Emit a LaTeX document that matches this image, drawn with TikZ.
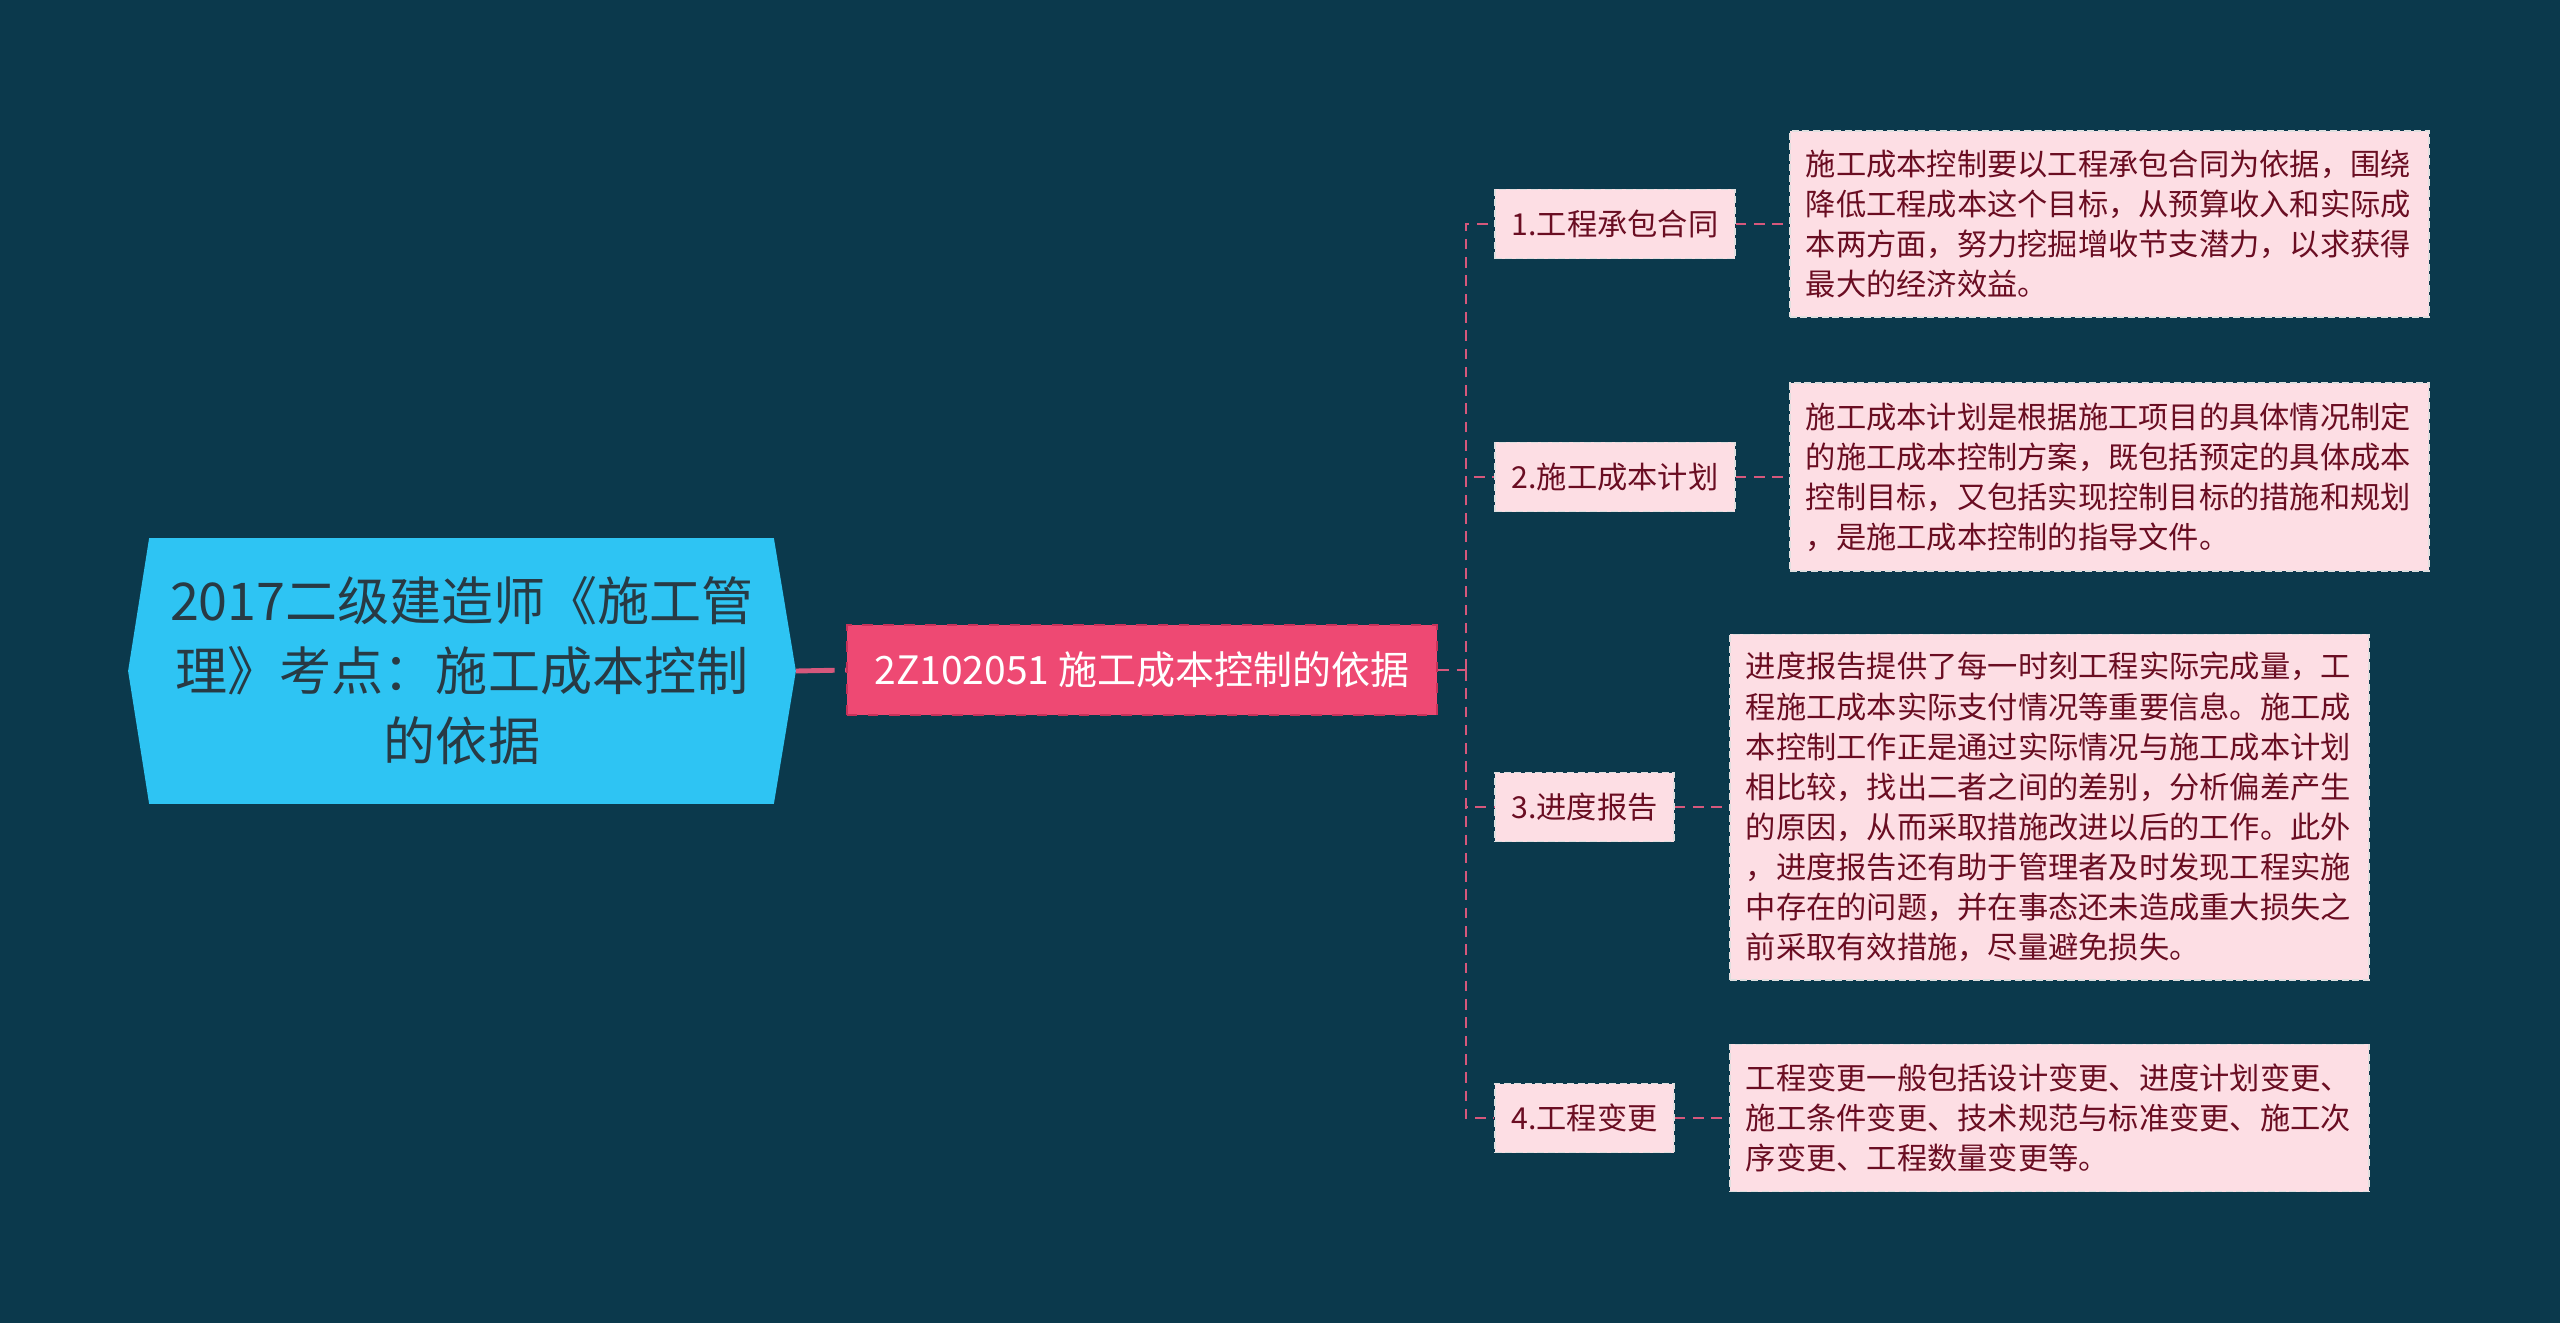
\documentclass[tikz,border=0pt]{standalone}
\usepackage{fontspec}
\setmainfont{Noto Sans CJK SC}
\definecolor{bgc}{RGB}{11,57,76}
\definecolor{rootc}{RGB}{46,196,243}
\definecolor{roottext}{RGB}{40,58,68}
\definecolor{mainc}{RGB}{238,73,115}
\definecolor{mainborder}{RGB}{200,50,90}
\definecolor{linkc}{RGB}{214,88,124}
\definecolor{leafc}{RGB}{253,222,228}
\definecolor{leaftext}{RGB}{106,13,34}
\tikzset{
  rootbox/.style={minimum width=6.66cm, minimum height=2.64cm, inner sep=0pt, align=center,
    text=roottext, font=\fontsize{14.8}{19.9}\selectfont},
  mainbox/.style={fill=mainc, draw=mainborder, dashed, line width=0.6pt, minimum width=5.9cm,
    minimum height=0.9cm, inner sep=0pt, text=white, font=\fontsize{11.1}{13}\selectfont},
  childbox/.style={fill=leafc, draw=white!75!gray, dash pattern=on 2pt off 1pt, line width=0.5pt,
    minimum height=0.69cm, inner sep=0pt, anchor=west, text=leaftext, font=\fontsize{8.6}{11}\selectfont},
  leafbox/.style={fill=leafc, draw=white!75!gray, dash pattern=on 2pt off 1pt, line width=0.5pt,
    anchor=west, inner xsep=0.16cm, inner ysep=0pt, text width=6.07cm, align=left,
    text=leaftext, font=\fontsize{8.6}{11.4}\selectfont},
  thicklink/.style={draw=linkc, line width=1.4pt, dash pattern=on 11pt off 3pt},
  thinlink/.style={draw=linkc, line width=0.8pt, dash pattern=on 3pt off 2.2pt},
}
\begin{document}
\begin{tikzpicture}[x=0.01cm,y=-0.01cm]
\fill[bgc] (0,0) rectangle (2560,1323);
\useasboundingbox (0,0) rectangle (2560,1323);

% root
\node[rootbox] (root) at (462,671) {};
\fill[rootc] (root.west) -- ([xshift=0.21cm]root.north west) -- ([xshift=-0.22cm]root.north east)
  -- (root.east) -- ([xshift=-0.22cm]root.south east) -- ([xshift=0.21cm]root.south west) -- cycle;
\node[rootbox] at (root.center) {2017二级建造师《施工管\\理》考点：施工成本控制\\的依据};

% main
\node[mainbox] (main) at (1142,670) {2Z102051 施工成本控制的依据};

% children
\node[childbox, minimum width=2.40cm] (c1) at (1494,224) {1.工程承包合同};
\node[childbox, minimum width=2.40cm] (c2) at (1494,477) {2.施工成本计划};
\node[childbox, minimum width=1.79cm] (c3) at (1494,807) {3.进度报告};
\node[childbox, minimum width=1.79cm] (c4) at (1494,1118) {4.工程变更};

% leaves
\node[leafbox, minimum height=1.86cm] (l1) at (1789,224) {施工成本控制要以工程承包合同为依据，围绕\\降低工程成本这个目标，从预算收入和实际成\\本两方面，努力挖掘增收节支潜力，以求获得\\最大的经济效益。};
\node[leafbox, minimum height=1.88cm] (l2) at (1789,477) {施工成本计划是根据施工项目的具体情况制定\\的施工成本控制方案，既包括预定的具体成本\\控制目标，又包括实现控制目标的措施和规划\\，是施工成本控制的指导文件。};
\node[leafbox, minimum height=3.45cm] (l3) at (1729,807) {进度报告提供了每一时刻工程实际完成量，工\\程施工成本实际支付情况等重要信息。施工成\\本控制工作正是通过实际情况与施工成本计划\\相比较，找出二者之间的差别，分析偏差产生\\的原因，从而采取措施改进以后的工作。此外\\，进度报告还有助于管理者及时发现工程实施\\中存在的问题，并在事态还未造成重大损失之\\前采取有效措施，尽量避免损失。};
\node[leafbox, minimum height=1.47cm] (l4) at (1729,1118) {工程变更一般包括设计变更、进度计划变更、\\施工条件变更、技术规范与标准变更、施工次\\序变更、工程数量变更等。};

% connectors
\coordinate (sp) at (1466,670);
\draw[thicklink] (root.east) -- (main.west);
\draw[thinlink] (main.east) -- (sp);
\draw[thinlink] (sp) |- (c1.west);
\draw[thinlink] (sp) |- (c2.west);
\draw[thinlink] (sp) |- (c3.west);
\draw[thinlink] (sp) |- (c4.west);
\draw[thinlink] (c1.east) -- (l1.west);
\draw[thinlink] (c2.east) -- (l2.west);
\draw[thinlink] (c3.east) -- (l3.west);
\draw[thinlink] (c4.east) -- (l4.west);
\end{tikzpicture}
\end{document}
